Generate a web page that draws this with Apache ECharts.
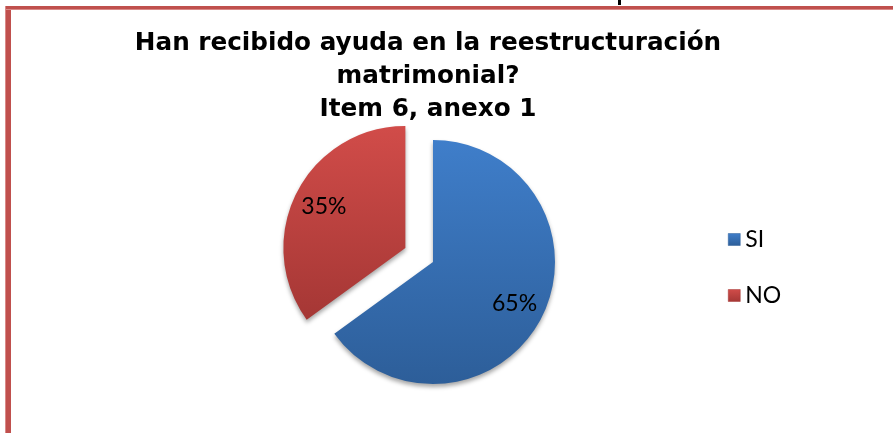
<!DOCTYPE html>
<html>
<head>
<meta charset="utf-8">
<script src="https://cdn.jsdelivr.net/npm/echarts@6/dist/echarts.min.js"></script>
<style>
html,body{margin:0;padding:0;background:#fff;}
#chart{width:893px;height:433px;}
</style>
</head>
<body>
<div id="chart"></div>
<script>
var categories = ['SI', 'NO'];
var values = [65, 35];
var titleLines = ['Han recibido ayuda en la reestructuración', 'matrimonial?', 'Item 6, anexo 1'];

var gradients = [
  ['#3F7ECA', '#2D5E99'],
  ['#D14C49', '#A53735']
];

function grad(c) {
  return new echarts.graphic.LinearGradient(0, 0, 0, 1, [
    {offset: 0, color: c[0]},
    {offset: 1, color: c[1]}
  ]);
}

var pieData = categories.map(function (name, i) {
  return {
    name: name,
    value: values[i],
    selected: name === 'NO',
    itemStyle: {color: grad(gradients[i])}
  };
});

var labelData = categories.map(function (name, i) {
  return {name: name, value: values[i], selected: name === 'NO'};
});

var chart = echarts.init(document.getElementById('chart'), null, {renderer: 'canvas'});
chart.setOption({
  animation: false,
  backgroundColor: '#ffffff',
  title: {
    text: titleLines.join('\n'),
    left: 428,
    textAlign: 'center',
    top: 27,
    padding: 0,
    textStyle: {
      fontFamily: 'DejaVu Sans',
      fontWeight: 'bold',
      fontSize: 24.7,
      lineHeight: 33,
      color: '#000000'
    }
  },
  legend: {
    orient: 'vertical',
    left: 723,
    top: 223,
    itemWidth: 12,
    itemHeight: 12,
    itemGap: 33,
    icon: 'rect',
    data: categories.map(function (n, i) {
      return {name: n, itemStyle: {color: grad(gradients[i]), borderColor: gradients[i][1], borderWidth: 0.5}};
    }),
    textStyle: {fontFamily: 'Lato', fontSize: 23, color: '#000000'},
    selectedMode: false
  },
  graphic: [
    {type: 'rect', shape: {x: 5, y: 6, width: 888, height: 4}, style: {fill: '#C0504D'}, z: 100},
    {type: 'rect', shape: {x: 5, y: 9, width: 888, height: 1}, style: {fill: '#D98A88'}, z: 101},
    {type: 'rect', shape: {x: 5, y: 6, width: 6, height: 427}, style: {fill: '#C0504D'}, z: 100},
    {type: 'rect', shape: {x: 5, y: 6, width: 1, height: 427}, style: {fill: '#D98A88'}, z: 101},
    {type: 'rect', shape: {x: 618, y: 0, width: 3, height: 5}, style: {fill: '#000000'}, z: 100}
  ],
  series: [
    {
      type: 'pie',
      center: [433, 262],
      radius: 122,
      startAngle: 90,
      clockwise: true,
      selectedMode: 'single',
      selectedOffset: 31,
      silent: true,
      label: {show: false},
      labelLine: {show: false},
      itemStyle: {
        shadowBlur: 4,
        shadowOffsetY: 3,
        shadowColor: 'rgba(0,0,0,0.35)'
      },
      data: pieData
    },
    {
      type: 'pie',
      center: [433, 262],
      radius: [55, 122],
      startAngle: 90,
      clockwise: true,
      selectedMode: 'single',
      selectedOffset: 31,
      silent: true,
      itemStyle: {color: 'rgba(0,0,0,0)'},
      label: {
        show: true,
        position: 'inside',
        formatter: function (p) { return p.value + '%'; },
        fontFamily: 'Lato',
        fontSize: 23,
        color: '#000000'
      },
      labelLine: {show: false},
      data: labelData
    }
  ]
});
</script>
</body>
</html>
